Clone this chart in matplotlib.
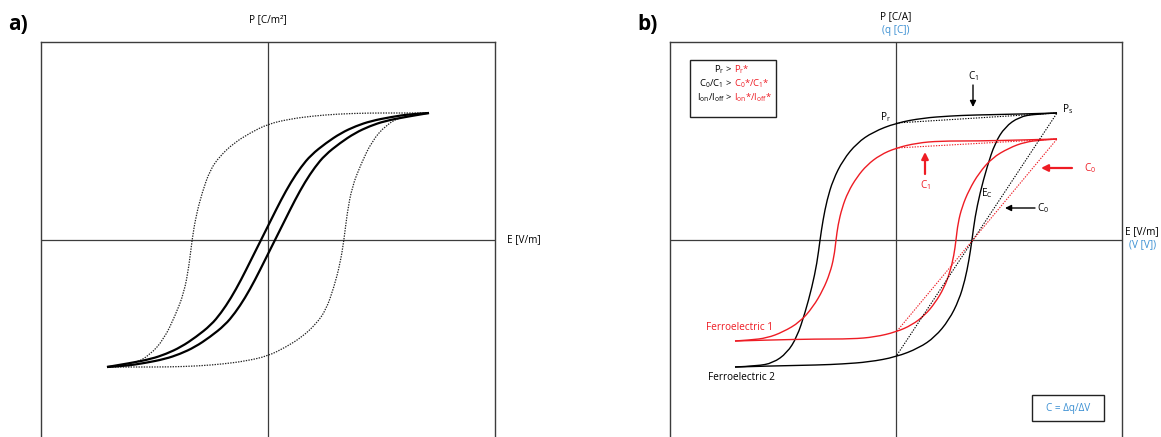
import numpy as np
import matplotlib.pyplot as plt
from matplotlib.patches import Rectangle, PathPatch
from matplotlib.path import Path

plt.rcParams['font.family'] = ['Open Sans', 'DejaVu Sans']
plt.rcParams['mathtext.fontset'] = 'custom'
plt.rcParams['mathtext.rm'] = 'Open Sans'
plt.rcParams['mathtext.it'] = 'Open Sans:italic'
plt.rcParams['mathtext.bf'] = 'Open Sans:bold'

RED = '#ee1c24'
BLUE = '#3a8fd2'
AX = '#3c3c3c'

# panel a: descending (upper) branches; lower branch = point mirror
a_solid_E = [161, 143, 123, 103, 88, 73, 58, 43, 33, 23, 13, 3, -7, -17, -27, -37, -47, -57, -72, -87, -102, -117, -137, -161]
a_solid_P = [127, 126, 123, 119, 114, 107, 97, 85, 73, 58, 40, 20, 0, -20, -40, -58, -73, -85, -97, -107, -114, -119, -123, -127]
a_dot_E = [161, 130, 100, 70, 45, 22, 0, -18, -34, -48, -58, -66, -72, -76, -79, -84, -93, -104, -118, -134, -161]
a_dot_P = [127, 127, 127, 126, 124, 121, 116, 107, 97, 84, 70, 47, 24, 0, -26, -53, -76, -99, -115, -124, -127]

# panel b: ferroelectric 2 (black) and ferroelectric 1 (red), upper branches
b_fe2_E = [161, 127, 77, 54, 27, 0, -23, -39, -53, -63, -69, -73, -76, -79, -84, -91, -99, -109, -123, -139, -161]
b_fe2_P = [127, 126, 125, 124, 122, 117, 108, 97, 80, 60, 40, 20, 0, -23, -47, -73, -97, -113, -123, -126, -127]
b_fe1_E = [161, 127, 80, 44, 21, 0, -16, -29, -39, -48, -54, -58, -60, -62, -66, -73, -83, -96, -113, -129, -146, -161]
b_fe1_P = [101, 100, 99, 99, 97, 92, 85, 75, 63, 48, 32, 15, 0, -17, -33, -50, -67, -82, -92, -98, -100, -101]

# dotted capacitance lines (E, P end points)
fe2_c1 = ([0, 161], [117, 127])
fe2_c0 = ([1, 161], [-115, 127])
fe1_c1 = ([0, 161], [92, 101])
fe1_c0 = ([1, 161], [-91, 101])

fig = plt.figure(figsize=(11.61, 4.37), dpi=100)
W, H = 1161, 437


def frame(x0, x1, xlim):
    ax = fig.add_axes([x0 / W, 0, (x1 - x0) / W, 1 - 42 / H])
    ax.set_xlim(-xlim, xlim)
    ax.set_ylim(-197, 198)
    ax.set_xticks([])
    ax.set_yticks([])
    ax.spines['bottom'].set_visible(False)
    for s in ['top', 'left', 'right']:
        ax.spines[s].set_linewidth(1.0)
        ax.spines[s].set_color(AX)
    ax.axhline(0, color=AX, lw=0.9, zorder=1)
    ax.axvline(0, color=AX, lw=0.9, zorder=1)
    return ax


def smooth(ax, E, P, **kw):
    # quadratic bezier through the read points (library draws the curve)
    pts = np.column_stack([E, P]).astype(float)
    verts = [pts[0]]
    codes = [Path.MOVETO]
    for i in range(1, len(pts) - 1):
        end = pts[-1] if i == len(pts) - 2 else (pts[i] + pts[i + 1]) / 2
        verts += [pts[i], end]
        codes += [Path.CURVE3, Path.CURVE3]
    ax.add_patch(PathPatch(Path(verts, codes), fill=False, **kw))


def loop(ax, E, P, **kw):
    E = np.array(E)
    P = np.array(P)
    smooth(ax, E, P, **kw)
    smooth(ax, -E, -P, **kw)


# ---------------- panel a
ax1 = frame(41, 495, 227)
loop(ax1, a_dot_E, a_dot_P, ec='#222222', lw=0.9, ls=(0, (1.1, 1.0)))
loop(ax1, a_solid_E, a_solid_P, ec='black', lw=1.6, capstyle='butt')
ax1.text(0, 220, 'P [C/m²]', ha='center', va='center', fontsize=7.2, clip_on=False)
ax1.text(239, 0, 'E [V/m]', ha='left', va='center', fontsize=7.2, clip_on=False)
fig.text(8 / W, 1 - 24 / H, 'a)', fontsize=15, fontweight='bold', va='center', ha='left')

# ---------------- panel b
ax2 = frame(670, 1122, 226)
dot = dict(lw=0.8, ls=(0, (1.2, 1.2)))
ax2.plot(*fe2_c1, color='black', **dot)
ax2.plot(*fe2_c0, color='black', **dot)
ax2.plot(*fe1_c1, color=RED, **dot)
ax2.plot(*fe1_c0, color=RED, **dot)
loop(ax2, b_fe2_E, b_fe2_P, ec='black', lw=1.0)
loop(ax2, b_fe1_E, b_fe1_P, ec=RED, lw=1.0)

fs = 7.2
ax2.text(0, 223, 'P [C/A]', ha='center', va='center', fontsize=fs, clip_on=False)
ax2.text(0, 209, '(q [C])', ha='center', va='center', fontsize=fs, color=BLUE, clip_on=False)
ax2.text(246, 8, 'E [V/m]', ha='center', va='center', fontsize=fs, clip_on=False)
ax2.text(247, -5, '(V [V])', ha='center', va='center', fontsize=fs, color=BLUE, clip_on=False)
fig.text(637 / W, 1 - 24 / H, 'b)', fontsize=15, fontweight='bold', va='center', ha='left')

ax2.text(-11, 123, r'P$_{\mathregular{r}}$', ha='center', va='center', fontsize=fs)
ax2.text(172, 131, r'P$_{\mathregular{s}}$', ha='center', va='center', fontsize=fs)
ax2.text(91, 47, r'E$_{\mathregular{C}}$', ha='center', va='center', fontsize=fs)

# arrows
ax2.annotate('', xy=(77, 133), xytext=(77, 155),
             arrowprops=dict(arrowstyle='-|>', color='black', lw=1.0, mutation_scale=9, shrinkA=0, shrinkB=0))
ax2.text(77, 164, r'C$_{\mathregular{1}}$', ha='center', va='center', fontsize=fs)
ax2.annotate('', xy=(109, 32), xytext=(139, 32),
             arrowprops=dict(arrowstyle='-|>', color='black', lw=1.0, mutation_scale=9, shrinkA=0, shrinkB=0))
ax2.text(141, 32, r'C$_{\mathregular{0}}$', ha='left', va='center', fontsize=fs)
ax2.annotate('', xy=(29, 88), xytext=(29, 66),
             arrowprops=dict(arrowstyle='-|>', color=RED, lw=1.6, mutation_scale=10, shrinkA=0, shrinkB=0))
ax2.text(29, 55, r'C$_{\mathregular{1}}$', ha='center', va='center', fontsize=fs, color=RED)
ax2.annotate('', xy=(145, 72), xytext=(176, 72),
             arrowprops=dict(arrowstyle='-|>', color=RED, lw=1.6, mutation_scale=10, shrinkA=0, shrinkB=0))
ax2.text(188, 72, r'C$_{\mathregular{0}}$', ha='left', va='center', fontsize=fs, color=RED)

ax2.text(-156, -88, 'Ferroelectric 1', ha='center', va='center', fontsize=fs, color=RED)
ax2.text(-155, -137, 'Ferroelectric 2', ha='center', va='center', fontsize=fs)

# legend box
ax2.add_patch(Rectangle((-206, 123), 86, 57, fill=False, ec='#222222', lw=1.0))
xs = -164
fl = 6.8
rows = [(168, r'P$_{\mathregular{r}}$ >', r'P$_{\mathregular{r}}$*'),
        (154, r'C$_{\mathregular{0}}$/C$_{\mathregular{1}}$ >', r'C$_{\mathregular{0}}$*/C$_{\mathregular{1}}$*'),
        (140, r'I$_{\mathregular{on}}$/I$_{\mathregular{off}}$ >', r'I$_{\mathregular{on}}$*/I$_{\mathregular{off}}$*')]
for y, blk, red in rows:
    ax2.text(xs, y, blk, ha='right', va='baseline', fontsize=fl)
    ax2.text(xs + 2, y, red, ha='left', va='baseline', fontsize=fl, color=RED)

ax2.add_patch(Rectangle((136, -181), 72, 26, fill=False, ec='#222222', lw=1.0))
ax2.text(172, -168, 'C = Δq/ΔV', ha='center', va='center', fontsize=fs, color=BLUE)

fig.savefig('out.png', dpi=100)
